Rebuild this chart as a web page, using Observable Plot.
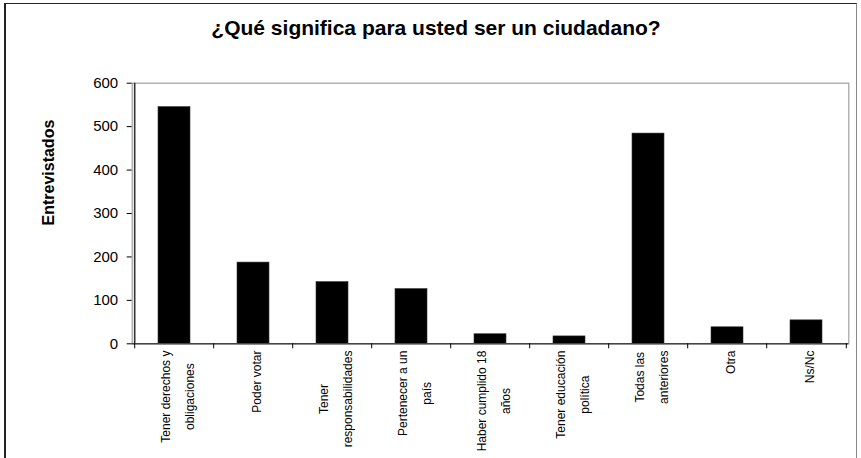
<!DOCTYPE html>
<html><head><meta charset="utf-8">
<script src="https://cdn.jsdelivr.net/npm/d3@7"></script>
<script src="https://cdn.jsdelivr.net/npm/@observablehq/plot@0.6"></script>
<style>
html,body{margin:0;padding:0;background:#fff;}
#wrap{position:relative;width:861px;height:458px;overflow:hidden;font-family:"Liberation Sans",Arial,sans-serif;}
#frame{position:absolute;left:4px;top:3px;width:853px;height:480px;border-left:2px solid #222;border-top:1.5px solid #222;border-right:1.5px solid #888;box-sizing:border-box;}
#title{position:absolute;left:0;width:872px;top:16px;text-align:center;font-weight:bold;font-size:21px;color:#000;}
#chart{position:absolute;left:0;top:0;}
</style></head><body>
<div id="wrap"><div id="frame"></div><div id="title">¿Qué significa para usted ser un ciudadano?</div><div id="chart"></div></div>
<script>
const categories = [
  "Tener derechos y\nobligaciones",
  "Poder votar",
  "Tener\nresponsabilidades",
  "Pertenecer a un\npaís",
  "Haber cumplido 18\naños",
  "Tener educación\npolítica",
  "Todas las\nanteriores",
  "Otra",
  "Ns/Nc"
];
const values = [545, 187, 142, 126, 22, 17, 484, 38, 54];
const yTicks = [0, 100, 200, 300, 400, 500, 600];
const yLabel = "Entrevistados";

const data = categories.map((c, i) => ({cat: c, value: values[i]}));

const W = 861, H = 458;
const ML = 131.7, MR = 12.7, MT = 82.7, MB = 114.7;
const step = (W - ML - MR) / categories.length;

const labelFont = 12;
const ctx = document.createElement("canvas").getContext("2d");
ctx.font = `${labelFont}px "Liberation Sans"`;
const maxWidth = (s) => Math.max(...s.split("\n").map(l => ctx.measureText(l).width));

const labelMarks = categories.map(c => Plot.text([c], {
  x: d => d, text: d => d, frameAnchor: "bottom",
  rotate: -90, textAnchor: "middle", lineAnchor: "middle",
  lineHeight: 2, fontSize: labelFont, fill: "#000",
  dy: 6.8 + maxWidth(c) / 2
}));

const chart = Plot.plot({
  width: W, height: H,
  marginLeft: ML, marginRight: MR, marginTop: MT, marginBottom: MB,
  style: {fontFamily: '"Liberation Sans", Arial, sans-serif', background: "transparent", color: "#000"},
  x: {domain: categories, paddingInner: 0.6, paddingOuter: 0.3, axis: null},
  y: {domain: [0, 600], axis: null},
  marks: [
    Plot.frame({stroke: "#a0a0a0", strokeWidth: 1.2}),
    Plot.barY(data, {x: "cat", y: "value", fill: "#000", stroke: "#333", strokeWidth: 0.6}),
    Plot.axisY({ticks: yTicks, tickSize: 5, tickPadding: 9, fontSize: 15, label: null, stroke: "#000"}),
    Plot.ruleX([categories[0]], {dx: -step / 2, stroke: "#333", strokeWidth: 1.6}),
    Plot.ruleY([0], {stroke: "#444", strokeWidth: 1.6}),
    Plot.ruleX(categories, {x: d => d, y1: 0, y2: 0, insetBottom: -5, dx: -step / 2, stroke: "#000"}),
    Plot.ruleX([categories[categories.length - 1]], {x: d => d, y1: 0, y2: 0, insetBottom: -5, dx: step / 2, stroke: "#000"}),
    ...labelMarks,
    Plot.text([yLabel], {text: d => d, frameAnchor: "left", dx: -83, dy: 12, rotate: -90, fontWeight: "bold", fontSize: 16, fill: "#000"})
  ]
});
document.getElementById("chart").appendChild(chart);
</script>
</body></html>
